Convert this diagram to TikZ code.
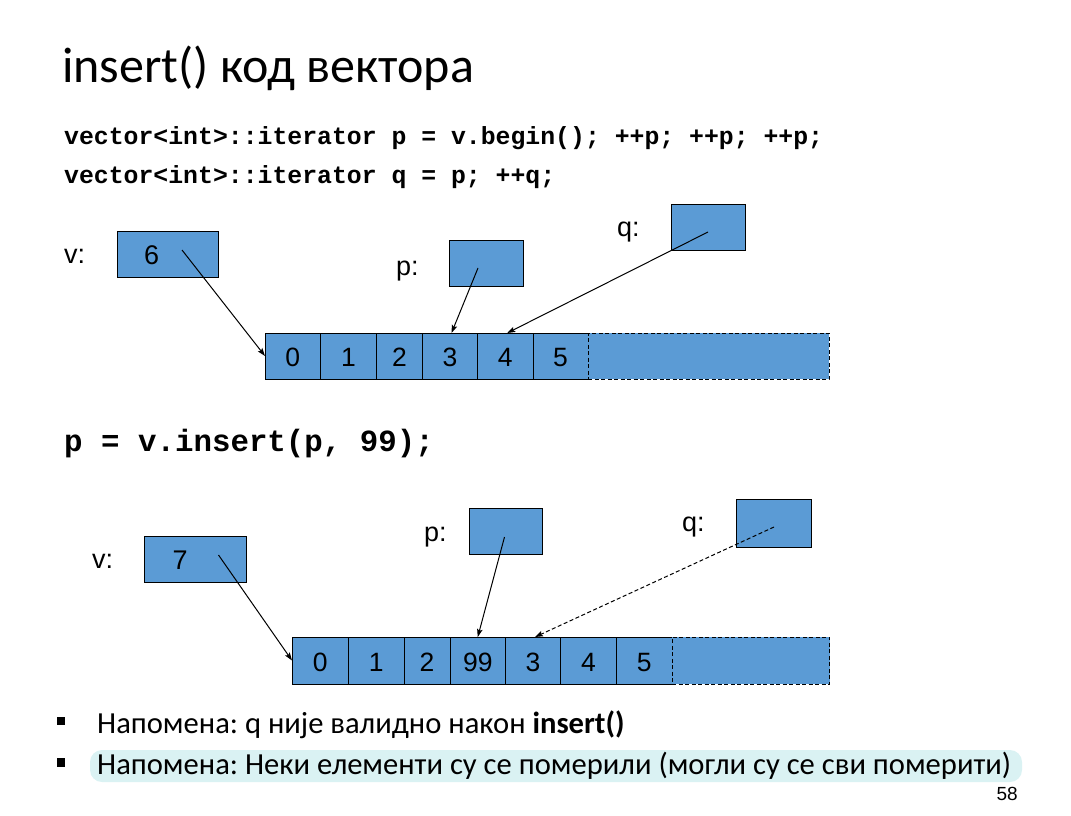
\documentclass[tikz,border=0pt]{standalone}
\usepackage{fontspec}
\setmainfont{Carlito}
\newfontfamily\arialfont{Liberation Sans}
\newfontfamily\codefont{Liberation Mono}
\usetikzlibrary{arrows.meta,calc}
\definecolor{boxblue}{HTML}{5B9BD5}
\definecolor{marker}{HTML}{DAF2F3}
\frenchspacing
\begin{document}
\begin{tikzpicture}[x=1pt,y=-1pt,
  cell/.style={draw=black, line width=0.9pt, fill=boxblue, inner sep=0pt, outer sep=0pt,
    text height=21.4pt, text depth=0pt,
    font=\arialfont\fontsize{26.5}{26.5}\selectfont},
  freecell/.style={cell, dashed, dash pattern=on 4pt off 2.5pt},
  ptrbox/.style={draw=black, line width=0.9pt, fill=boxblue, inner sep=0pt, outer sep=0pt},
  lbl/.style={anchor=base west, inner sep=0pt, font=\arialfont\fontsize{27}{27}\selectfont},
  code/.style={anchor=base west, inner sep=0pt, font=\codefont\bfseries\fontsize{24.8}{24.8}\selectfont},
  ptr/.style={-{Stealth[length=8pt,width=5.5pt,inset=1.5pt]}, line width=1pt},
  bullet/.style={anchor=base west, inner sep=0pt, font=\fontsize{30.6}{30.6}\selectfont}]
\useasboundingbox (0,0) rectangle (1071,816);

% title and code
\node[anchor=base west, inner sep=0pt, font=\fontsize{50}{50}\selectfont] (title) at (62,83) {insert() код вектора};
\node[code] (code1) at (64,144) {vector<int>::iterator p = v.begin(); ++p; ++p; ++p;};
\node[code] (code2) at (64,183) {vector<int>::iterator q = p; ++q;};

% ---- vector before insert ----
\node[cell, minimum width=55.5pt, minimum height=46pt] (c0) at (292.75,356) {0};
\node[cell, minimum width=56pt,   minimum height=46pt] (c1) at (348.5,356) {1};
\node[cell, minimum width=46pt,   minimum height=46pt] (c2) at (399.5,356) {2};
\node[cell, minimum width=55pt,   minimum height=46pt] (c3) at (450,356) {3};
\node[cell, minimum width=55.5pt, minimum height=46pt] (c4) at (505.25,356) {4};
\node[cell, minimum width=55pt,   minimum height=46pt] (c5) at (560.5,356) {5};
\node[freecell, minimum width=241pt, minimum height=46pt] (cfree) at (708.5,356) {};

\node[lbl] (vlab) at (64,263.5) {v:};
\node[ptrbox, minimum width=101pt, minimum height=45.5pt] (vbox) at (168,254.25) {};
\node[lbl] (vval) at (144,264) {6};
\node[lbl] (plab) at (396,275) {p:};
\node[ptrbox, minimum width=74pt, minimum height=46pt] (pbox) at (486.5,263.5) {};
\node[lbl] (qlab) at (617,236) {q:};
\node[ptrbox, minimum width=74.5pt, minimum height=46pt] (qbox) at (708.25,227) {};

\coordinate (vtail) at (182,250);
\coordinate (ptail) at (478,268);
\coordinate (qtail) at (708,232);
\draw[ptr] (vtail) -- (c0.west);
\draw[ptr] (ptail) -- ([xshift=1.5pt]c3.north);
\draw[ptr] (qtail) -- ([xshift=2pt]c4.north);

% ---- after insert ----
\node[code, font=\codefont\bfseries\fontsize{30.8}{30.8}\selectfont] (code3) at (64,451) {p = v.insert(p, 99);};

\node[cell, minimum width=56.5pt, minimum height=47pt] (d0) at (320.25,660.5) {0};
\node[cell, minimum width=55.5pt, minimum height=47pt] (d1) at (376.25,660.5) {1};
\node[cell, minimum width=46pt,   minimum height=47pt] (d2) at (427,660.5) {2};
\node[cell, minimum width=55.5pt, minimum height=47pt] (d3) at (477.75,660.5) {99};
\node[cell, minimum width=55pt,   minimum height=47pt] (d4) at (533,660.5) {3};
\node[cell, minimum width=56pt,   minimum height=47pt] (d5) at (588.5,660.5) {4};
\node[cell, minimum width=55.5pt, minimum height=47pt] (d6) at (644.25,660.5) {5};
\node[freecell, minimum width=157.5pt, minimum height=47pt] (dfree) at (750.75,660.5) {};

\node[lbl] (vlab2) at (92,568) {v:};
\node[ptrbox, minimum width=102pt, minimum height=46pt] (vbox2) at (195.5,559.5) {};
\node[lbl] (vval2) at (172.5,569) {7};
\node[lbl] (plab2) at (424,541) {p:};
\node[ptrbox, minimum width=73.5pt, minimum height=46pt] (pbox2) at (505.75,531) {};
\node[lbl] (qlab2) at (682,531) {q:};
\node[ptrbox, minimum width=74.5pt, minimum height=47.5pt] (qbox2) at (773.75,523.25) {};

\coordinate (vtail2) at (218.5,555);
\coordinate (ptail2) at (504.5,537);
\coordinate (qtail2) at (774,527);
\draw[ptr] (vtail2) -- (d0.west);
\draw[ptr] (ptail2) -- (d3.north);
\draw[ptr, dashed, dash pattern=on 4pt off 2.5pt] (qtail2) -- ([xshift=2pt]d4.north);

% ---- notes ----
\fill[marker, rounded corners=12pt] (90,750) rectangle (1022,782);
\fill (57,717) rectangle (65,725);
\fill (57,758) rectangle (65,766.5);
\node[bullet] (note1) at (97,733) {Напомена: q није валидно након \textbf{insert()}};
\node[bullet] (note2) at (97,774) {Напомена: Неки елементи су се померили (могли су се сви померити)};
\node[anchor=base east, inner sep=0pt, font=\arialfont\fontsize{19}{19}\selectfont] (pagenum) at (1018,800) {58};
\end{tikzpicture}
\end{document}
